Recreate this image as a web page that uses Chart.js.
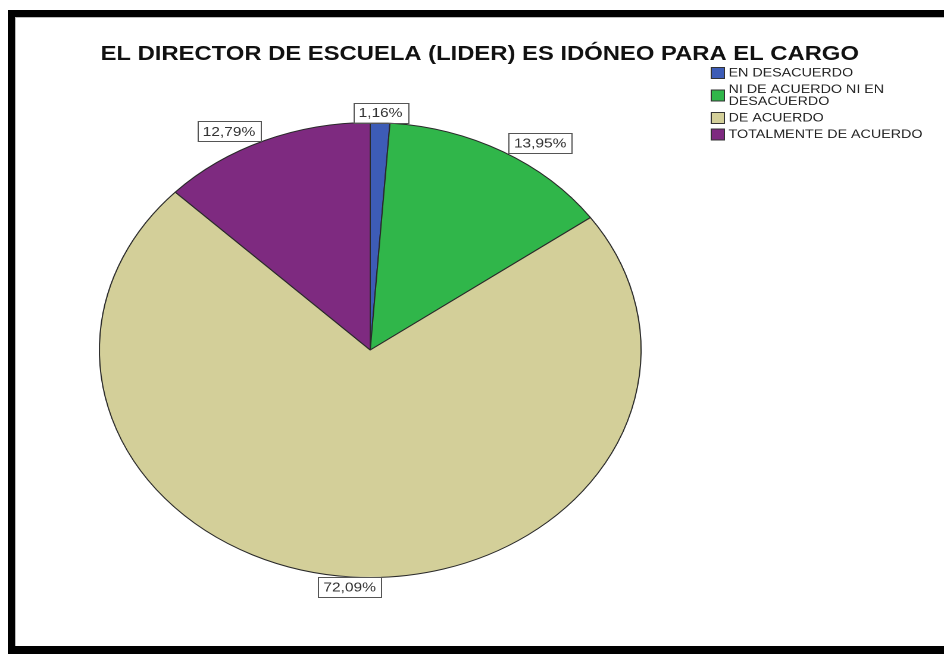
<!DOCTYPE html>
<html>
<head>
<meta charset="utf-8">
<script src="https://cdn.jsdelivr.net/npm/chart.js@4"></script>
<style>
  html, body { margin: 0; padding: 0; background: #fff; }
  body { width: 944px; height: 654px; position: relative; overflow: hidden; }
  #frame {
    position: absolute; left: 8px; top: 10px; width: 960px; height: 629px;
    border-top: 7px solid #000; border-left: 7px solid #000; border-bottom: 8px solid #000;
    box-shadow: inset 1px 1px 0 #bbb;
  }
  /* chart is laid out narrower and stretched sideways, so the pie comes out oval */
  #wrap {
    position: absolute; left: 0; top: 0; width: 793px; height: 654px;
    transform: scaleX(1.1904); transform-origin: 0 0;
  }
</style>
</head>
<body>
<div id="frame"></div>
<div id="wrap"><canvas id="myChart"></canvas></div>
<script>
// data
const categories = ['EN DESACUERDO', 'NI DE ACUERDO NI EN DESACUERDO', 'DE ACUERDO', 'TOTALMENTE DE ACUERDO'];
const percentages = [1.16, 13.95, 72.09, 12.79];
const sliceColors = ['#3d5cb6', '#30b64a', '#d3cf99', '#7e2a80'];
const chartTitle = 'EL DIRECTOR DE ESCUELA (LIDER) ES IDÓNEO PARA EL CARGO';

const FONT = '"Liberation Sans", Arial, sans-serif';

function wrapText(ctx, text, maxWidth) {
  const words = text.split(' ');
  const lines = [];
  let line = '';
  words.forEach(w => {
    const test = line ? line + ' ' + w : w;
    if (line && ctx.measureText(test).width > maxWidth) {
      lines.push(line);
      line = w;
    } else {
      line = test;
    }
  });
  if (line) lines.push(line);
  return lines;
}

// title, legend and the boxed percent labels
const decorations = {
  id: 'decorations',
  afterDraw(chart) {
    const ctx = chart.ctx;
    ctx.save();

    // title
    ctx.fillStyle = '#111';
    ctx.font = 'bold 20px ' + FONT;
    ctx.textAlign = 'center';
    ctx.textBaseline = 'alphabetic';
    ctx.fillText(chartTitle, 403, 60);

    // legend
    ctx.font = '12px ' + FONT;
    ctx.textAlign = 'left';
    ctx.textBaseline = 'middle';
    let y = 73;
    categories.forEach((cat, i) => {
      const lines = wrapText(ctx, cat, 170);
      const mid = y + (lines.length - 1) * 12 / 2;
      ctx.fillStyle = sliceColors[i];
      ctx.fillRect(597.5, mid - 5.5, 11, 11);
      ctx.strokeStyle = '#333';
      ctx.lineWidth = 1;
      ctx.strokeRect(597.5, mid - 5.5, 11, 11);
      ctx.fillStyle = '#222';
      lines.forEach((ln, k) => ctx.fillText(ln, 612, y + k * 12));
      y += (lines.length - 1) * 12 + 16.5;
    });

    // percent labels
    const meta = chart.getDatasetMeta(0);
    ctx.font = '13px ' + FONT;
    ctx.textAlign = 'center';
    meta.data.forEach((arc, i) => {
      const a = (arc.startAngle + arc.endAngle) / 2;
      const r = arc.outerRadius + 10;
      const c = Math.cos(a), s = Math.sin(a);
      const text = percentages[i].toFixed(2).replace('.', ',') + '%';
      const w = ctx.measureText(text).width + 9;
      const h = 20;
      const side = Math.max(0, Math.min(1, (Math.abs(c) - 0.1) / 0.3));
      const lx = arc.x + r * c + Math.sign(c) * side * w / 2;
      const ly = arc.y + r * s;
      ctx.fillStyle = '#fff';
      ctx.fillRect(lx - w / 2, ly - h / 2, w, h);
      ctx.strokeStyle = '#555';
      ctx.strokeRect(Math.round(lx - w / 2) + 0.5, Math.round(ly - h / 2) + 0.5, Math.round(w), h);
      ctx.fillStyle = '#333';
      ctx.fillText(text, lx, ly + 1);
    });

    ctx.restore();
  }
};

const data = {
  labels: categories,
  datasets: [{
    data: percentages,
    backgroundColor: sliceColors,
    borderColor: '#2a2a2a',
    borderWidth: 1
  }]
};

const options = {
  responsive: true,
  maintainAspectRatio: false,
  animation: false,
  devicePixelRatio: 2,
  layout: {
    padding: { left: 83, right: 254, top: 122, bottom: 76 }
  },
  plugins: {
    legend: { display: false },
    title: { display: false },
    tooltip: { enabled: false }
  }
};

const myChart = new Chart(document.getElementById('myChart'), {
  type: 'pie',
  data,
  options,
  plugins: [decorations]
});
</script>
</body>
</html>
